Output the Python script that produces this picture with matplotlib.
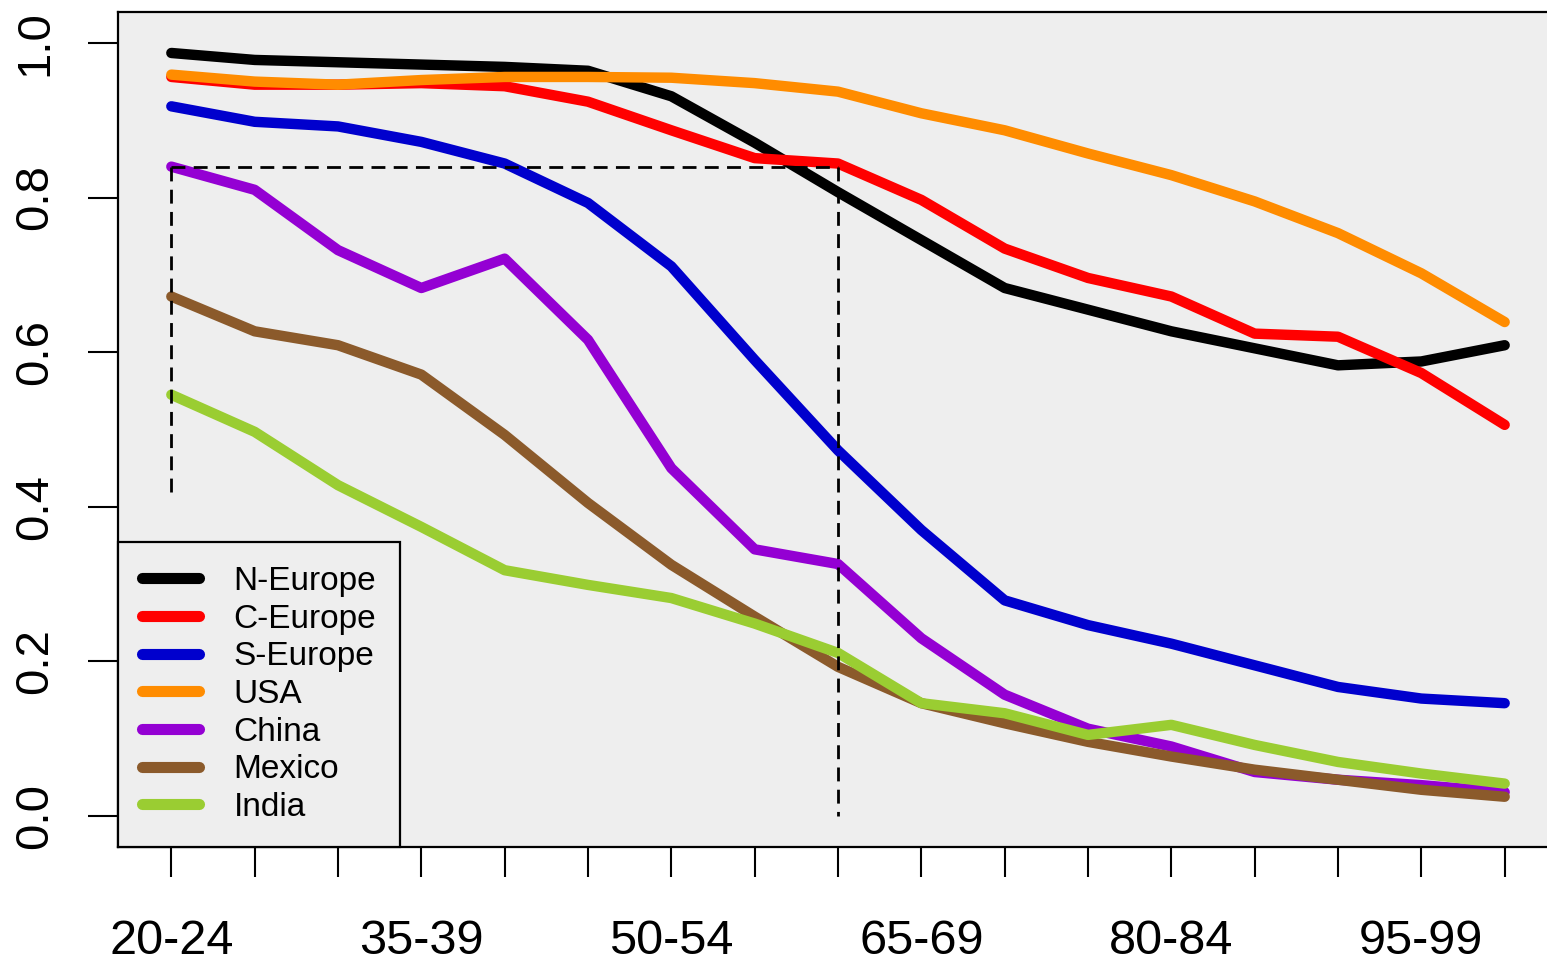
import numpy as np
import matplotlib
matplotlib.use('Agg')
import matplotlib.pyplot as plt

plt.rcParams['font.family'] = ['Liberation Sans', 'DejaVu Sans']

# age groups 20-24 ... 100-104
age_groups = [f'{a}-{a + 4}' for a in range(20, 105, 5)]
shown_labels = ['20-24', '35-39', '50-54', '65-69', '80-84', '95-99']

n_europe = [0.987, 0.978, 0.975, 0.972, 0.969, 0.964, 0.931, 0.871, 0.807,
            0.745, 0.683, 0.655, 0.627, 0.605, 0.583, 0.588, 0.609]
c_europe = [0.956, 0.946, 0.946, 0.948, 0.944, 0.924, 0.887, 0.851, 0.844,
            0.797, 0.734, 0.696, 0.672, 0.624, 0.620, 0.573, 0.506]
s_europe = [0.918, 0.898, 0.892, 0.872, 0.844, 0.793, 0.711, 0.590, 0.473,
            0.370, 0.279, 0.247, 0.223, 0.195, 0.167, 0.152, 0.146]
usa = [0.959, 0.950, 0.946, 0.952, 0.956, 0.956, 0.955, 0.948, 0.937,
       0.909, 0.887, 0.857, 0.829, 0.795, 0.754, 0.702, 0.639]
china = [0.840, 0.810, 0.732, 0.683, 0.721, 0.616, 0.450, 0.345, 0.326,
         0.230, 0.157, 0.113, 0.090, 0.057, 0.047, 0.040, 0.031]
mexico = [0.672, 0.627, 0.609, 0.571, 0.493, 0.405, 0.325, 0.258, 0.193,
          0.146, 0.120, 0.096, 0.077, 0.060, 0.047, 0.034, 0.025]
india = [0.545, 0.497, 0.428, 0.374, 0.318, 0.299, 0.282, 0.249, 0.211,
         0.146, 0.133, 0.105, 0.118, 0.092, 0.070, 0.055, 0.042]

series = [('N-Europe', n_europe, 'black'),
          ('C-Europe', c_europe, '#FF0000'),
          ('S-Europe', s_europe, '#0000CD'),
          ('USA', usa, '#FF8C00'),
          ('China', china, '#9400D3'),
          ('Mexico', mexico, '#8B5A2B'),
          ('India', india, '#9ACD32')]

# reference level marked with dashed lines
ref_level = 0.84
ref_start, ref_end = '20-24', '60-64'
ref_low_left = 0.41

W, H = 1547, 965
fig = plt.figure(figsize=(W / 100, H / 100), dpi=100)
ax = fig.add_axes([118 / W, 118 / H, (1558 - 118) / W, 835 / H])
ax.set_facecolor('#EEEEEE')

x = np.arange(len(age_groups))
for name, vals, col in series:
    ax.plot(x, vals, color=col, lw=7.5, label=name,
            solid_capstyle='round', solid_joinstyle='round')

i0 = age_groups.index(ref_start)
i1 = age_groups.index(ref_end)
dash = dict(color='black', lw=2.0, dashes=(5, 3))
ax.plot([x[i0], x[i1]], [ref_level, ref_level], **dash)
ax.plot([x[i0], x[i0]], [ref_level, ref_low_left], **dash)
ax.plot([x[i1], x[i1]], [ref_level, 0.0], **dash)

ax.set_xlim(-0.64, len(age_groups) - 1 + 0.64)
ax.set_ylim(-0.04, 1.04)

ax.set_xticks(x)
ax.set_xticklabels([g if g in shown_labels else '' for g in age_groups])
ax.set_yticks(np.arange(0, 1.01, 0.2))
ax.set_yticklabels([f'{v:.1f}' for v in np.arange(0, 1.01, 0.2)],
                   rotation=90, va='center')
ax.tick_params(axis='x', length=21.6, width=1.5, pad=30, labelsize=35)
ax.tick_params(axis='y', length=21.6, width=1.5, pad=22, labelsize=34)
for sp in ax.spines.values():
    sp.set_linewidth(1.6)

leg = ax.legend(loc='lower left', bbox_to_anchor=(0, 0), borderaxespad=0,
                fancybox=False, edgecolor='black', facecolor='#EEEEEE',
                framealpha=1, fontsize=24, handlelength=1.7,
                handletextpad=1.05, labelspacing=0.2, borderpad=0.72)
leg.get_frame().set_linewidth(1.6)
for h in leg.get_lines():
    h.set_linewidth(8)

fig.savefig('out.png', dpi=100)
